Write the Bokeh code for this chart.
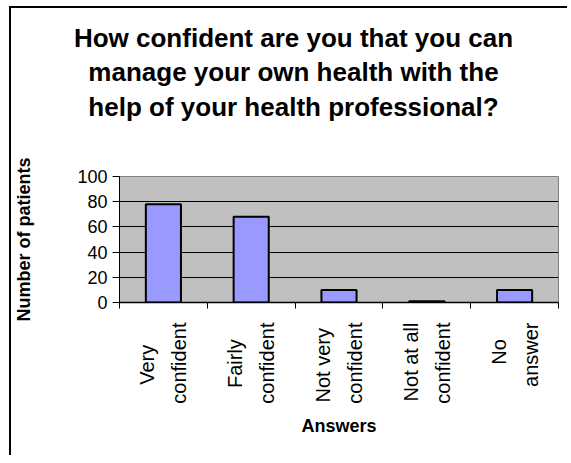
import math
from bokeh.plotting import figure
from bokeh.models import (Range1d, LinearAxis, FixedTicker, Label)
from bokeh.embed import file_html
from bokeh.resources import INLINE

# ---- data ----
categories = [["Very", "confident"], ["Fairly", "confident"],
              ["Not very", "confident"], ["Not at all", "confident"],
              ["No", "answer"]]
values = [78, 68, 10, 1, 10]
y_ticks = [0, 20, 40, 60, 80, 100]
title_lines = ["How confident are you that you can",
               "manage your own health with the",
               "help of your health professional?"]
x_title = "Answers"
y_title = "Number of patients"

FONT = "Liberation Sans"
NBSP = "\u00a0"

n = len(categories)
centers = [i + 0.5 for i in range(n)]
bounds = list(range(n + 1))

# first-line padding so the two rotated lines look centred (style only)
first_line_pad = [4, 3, 1, 0, 3]
tick_labels = [c[0] + NBSP * k + "\n" + c[1]
               for c, k in zip(categories, first_line_pad)]

p = figure(x_range=Range1d(0, n),
           y_range=Range1d(y_ticks[0], y_ticks[-1]),
           width=558, height=449,
           output_backend="svg", toolbar_location=None,
           x_axis_location=None,
           min_border_left=105, min_border_right=11,
           min_border_top=168, min_border_bottom=155,
           background_fill_color="#C0C0C0", border_fill_color="white",
           outline_line_color="#808080", outline_line_width=1)
p.margin = (8, 0, 0, 11)
# outer chart frame: only its left and top edges fall inside the window
p.styles = {"box-shadow": "-2px -2px 0px 0px black"}

# bars
p.vbar(x=centers, top=values, width=0.4, fill_color="#9999FF",
       line_color="black", line_width=2)

# grid
p.xgrid.visible = False
p.ygrid.ticker = FixedTicker(ticks=y_ticks[1:-1])
p.ygrid.grid_line_color = "black"
p.ygrid.grid_line_width = 1

# y axis
ya = p.yaxis[0]
ya.ticker = FixedTicker(ticks=y_ticks)
ya.major_tick_out = 7
ya.major_tick_in = 0
ya.minor_tick_out = 0
ya.minor_tick_in = 0
ya.axis_line_color = "black"
ya.major_tick_line_color = "black"
ya.major_label_text_font = FONT
ya.major_label_text_font_size = "18px"
ya.major_label_text_color = "black"
ya.major_label_standoff = 5
ya.axis_label = y_title
ya.axis_label_text_font = FONT
ya.axis_label_text_font_size = "18px"
ya.axis_label_text_font_style = "bold"
ya.axis_label_text_color = "black"
ya.axis_label_standoff = 40

# category axis: labels at centres, boundary ticks as minor ticks
xa = LinearAxis(ticker=FixedTicker(ticks=centers, minor_ticks=bounds),
                major_label_overrides=dict(zip(centers, tick_labels)),
                axis_label=x_title,
                major_label_orientation=math.pi / 2,
                major_tick_out=0, major_tick_in=0,
                minor_tick_out=6, minor_tick_in=0,
                axis_line_color="black", axis_line_width=1.5,
                minor_tick_line_color="black", minor_tick_line_width=1,
                major_label_text_font=FONT,
                major_label_text_font_size="20px",
                major_label_text_color="black",
                major_label_text_line_height=1.45,
                major_label_standoff=14,
                axis_label_text_font=FONT,
                axis_label_text_font_size="18px",
                axis_label_text_font_style="bold",
                axis_label_text_color="black",
                axis_label_standoff=9)
p.add_layout(xa, "below")

# chart title
title = Label(x=174, y=154, x_units="screen", y_units="screen",
              text="\n".join(title_lines), text_align="center",
              text_baseline="top",
              text_font=FONT, text_font_size="26px", text_font_style="bold",
              text_color="black", text_line_height=1.15)
p.add_layout(title, "above")

open("out.html", "w").write(file_html(p, INLINE))
